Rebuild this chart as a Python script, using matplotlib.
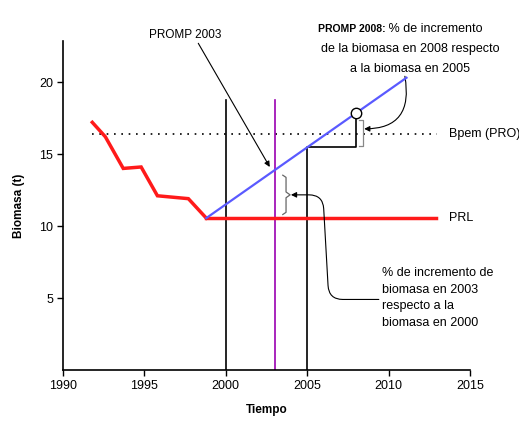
import numpy as np
import matplotlib
matplotlib.use("Agg")
import matplotlib.pyplot as plt

plt.rcParams['font.family'] = ['Liberation Sans', 'DejaVu Sans']

# historical biomass (red) and reference levels
hist_years = [1991.8, 1992.6, 1993.7, 1994.8, 1995.8, 1997.7, 1998.8]
hist_biomass = [17.2, 16.2, 14.0, 14.1, 12.1, 11.9, 10.55]
prl_years = [1998.8, 2012.9]
prl_level = 10.55
bpem_years = [1991.8, 2013.0]
bpem_level = 16.4

# projected biomass (blue)
proj_years = [1998.8, 2011.1]
proj_biomass = [10.55, 20.3]

line_top = 18.75
yr_2000, yr_2003, yr_2005, yr_2008 = 2000, 2003, 2005, 2008

x_ticks = [1990, 1995, 2000, 2005, 2010, 2015]
y_ticks = [5, 10, 15, 20]

def blue_at(yr):
    return np.interp(yr, proj_years, proj_biomass)

FS = 9
W, H = 519, 423
fig = plt.figure(figsize=(W / 100, H / 100), dpi=100)
ax = fig.add_axes([63 / W, 1 - 370 / H, (470 - 63) / W, (370 - 41) / H])

ax.set_xlim(1990, 2015)
ax.set_ylim(0, 22.85)
for s in ['top', 'right']:
    ax.spines[s].set_visible(False)
for s in ['left', 'bottom']:
    ax.spines[s].set_linewidth(1.2)
ax.set_xticks(x_ticks)
ax.set_yticks(y_ticks)
ax.tick_params(direction='out', length=4, width=1, labelsize=FS, pad=3)
ax.set_xlabel('Tiempo', fontsize=8.5, fontweight='bold', labelpad=9)
ax.set_ylabel('Biomasa (t)', fontsize=8.5, fontweight='bold', labelpad=10)

# lines
ax.plot(hist_years, hist_biomass, color='#ff1a1a', lw=2.5, solid_joinstyle='miter', zorder=3)
ax.plot(prl_years, [prl_level, prl_level], color='#ff1a1a', lw=2.5, zorder=3)
ax.plot(bpem_years, [bpem_level, bpem_level], color='k', lw=1.2, linestyle=(0, (1, 3.4)))
ax.plot(proj_years, proj_biomass, color='#5a5aff', lw=1.6, zorder=4)

ax.plot([yr_2000, yr_2000], [0, line_top], color='k', lw=1.2)
ax.plot([yr_2003, yr_2003], [0, line_top], color='#9a00b0', lw=1.2)
b05 = blue_at(yr_2005)
b08 = blue_at(yr_2008)
ax.plot([yr_2005, yr_2005, yr_2008, yr_2008], [0, b05, b05, b08 - 0.4], color='k', lw=1.2)
ax.plot([yr_2008], [b08], marker='o', ms=7.5, mfc='white', mec='k', mew=1, zorder=5)

# bracket next to 2008
bx = yr_2008 + 0.2
ax.plot([bx, bx + 0.25, bx + 0.25, bx], [b05 + 0.1, b05 + 0.1, b08 - 0.5, b08 - 0.5],
        color='#888888', lw=0.9)

# curly brace next to 2003
cx, c0, c1 = yr_2003 + 0.5, prl_level + 0.25, blue_at(yr_2003) - 0.35
cm = (c0 + c1) / 2
ax.plot([cx, cx + 0.2, cx + 0.2, cx + 0.45, cx + 0.2, cx + 0.2, cx],
        [c1, c1 - 0.15, cm + 0.2, cm, cm - 0.2, c0 + 0.15, c0],
        color='#666666', lw=0.9)

# labels
ax.text(2013.7, bpem_level, 'Bpem (PRO)', fontsize=FS, va='center', ha='left', clip_on=False)
ax.text(2013.7, prl_level, 'PRL', fontsize=FS, va='center', ha='left')

arrow = dict(arrowstyle='-|>', color='k', lw=0.8, mutation_scale=8, shrinkA=0, shrinkB=0)
ax.annotate('PROMP 2003', xy=(2002.7, 14.1), xytext=(1997.5, 23.3),
            fontsize=8.5, ha='center', va='center', annotation_clip=False,
            arrowprops=dict(arrow, relpos=(0.66, 0.0)))

ax.text(2009.8, 23.7, 'PROMP 2008:', fontsize=7.5, fontweight='bold',
        family=['Liberation Sans Narrow', 'Liberation Sans'], ha='right', va='center', clip_on=False)
ax.text(2009.8, 23.7, ' % de incremento', fontsize=FS, ha='left', va='center', clip_on=False)
ax.text(2011.3, 22.3, 'de la biomasa en 2008 respecto', fontsize=FS, ha='center', va='center', clip_on=False)
ax.text(2011.3, 20.9, 'a la biomasa en 2005', fontsize=FS, ha='center', va='center', clip_on=False)
ax.annotate('', xy=(bx + 0.3, 16.75), xytext=(2011.0, 20.4), annotation_clip=False,
            arrowprops=dict(arrow, connectionstyle='angle3,angleA=-80,angleB=0'))

ax.text(2009.6, 5.0, '% de incremento de\nbiomasa en 2003\nrespecto a la\nbiomasa en 2000',
        fontsize=FS, ha='left', va='center', linespacing=1.5)
ax.annotate('', xy=(cx + 0.5, cm), xytext=(2009.4, 4.9),
            arrowprops=dict(arrow, connectionstyle='arc,angleA=180,angleB=0,armA=50,armB=32,rad=14'))

fig.savefig('out.png', dpi=100)
